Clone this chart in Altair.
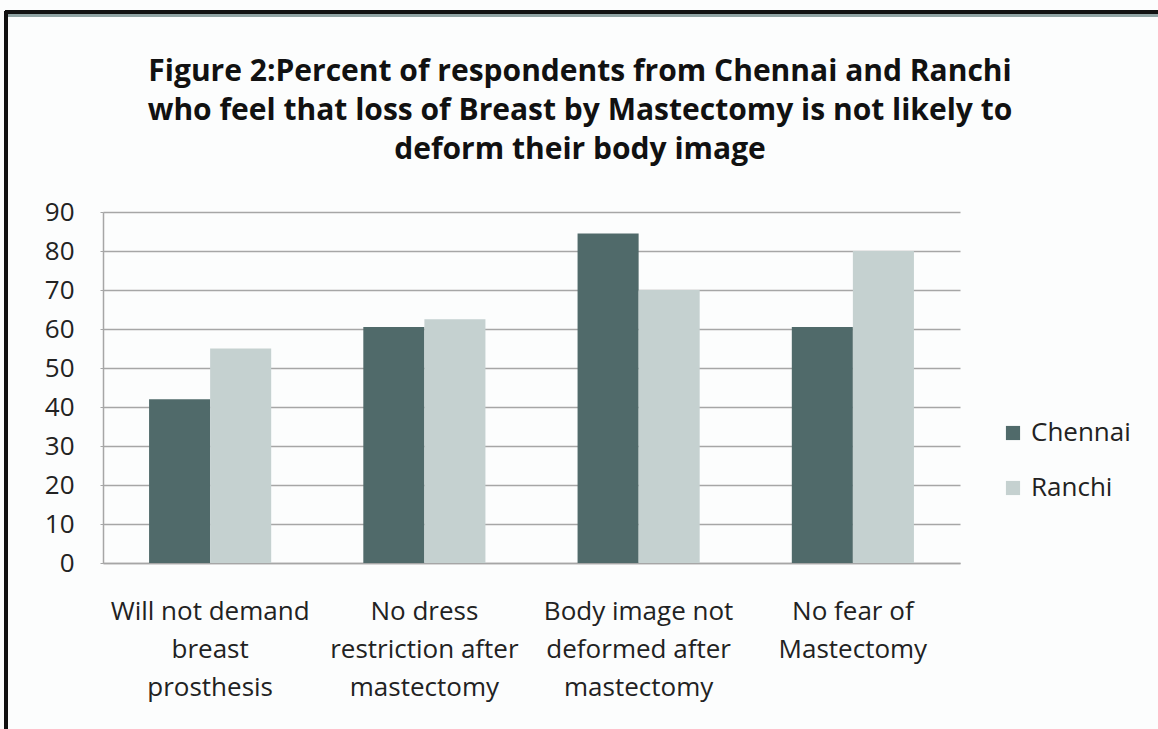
import altair as alt
import pandas as pd

# Survey categories (pipe marks a line break in the axis label)
categories = [
    "Will not demand|breast|prosthesis",
    "No dress|restriction after|mastectomy",
    "Body image not|deformed after|mastectomy",
    "No fear of|Mastectomy",
]
cities = ["Chennai", "Ranchi"]
chennai = [42, 60.5, 84.5, 60.5]
ranchi = [55, 62.5, 70, 80]
title_lines = [
    "Figure 2:Percent of respondents from Chennai and Ranchi",
    "who feel that loss of Breast by Mastectomy is not likely to",
    "deform their body image",
]

rows = []
for cat, c, r in zip(categories, chennai, ranchi):
    rows.append({"category": cat, "city": "Chennai", "percent": c})
    rows.append({"category": cat, "city": "Ranchi", "percent": r})
df = pd.DataFrame(rows)

FONT = "Open Sans"
TEXT = "#222222"
GRID = "#a6a6a6"

bars = alt.Chart(df).mark_bar().encode(
    x=alt.X(
        "category:N",
        sort=categories,
        title=None,
        scale=alt.Scale(paddingInner=0.43, paddingOuter=0.215),
        axis=alt.Axis(
            labelAngle=0,
            labelExpr="split(datum.label, '|')",
            labelFontSize=26,
            labelLineHeight=38,
            labelPadding=35,
            labelLimit=0,
            labelColor=TEXT,
            labelFont=FONT,
            ticks=False,
            domainColor=GRID,
            domainWidth=1.5,
            grid=False,
        ),
    ),
    xOffset=alt.XOffset("city:N", sort=cities),
    y=alt.Y(
        "percent:Q",
        title=None,
        scale=alt.Scale(domain=[0, 90], nice=False),
        axis=alt.Axis(
            values=list(range(0, 100, 10)),
            labelFontSize=26,
            labelColor=TEXT,
            labelFont=FONT,
            labelPadding=26,
            tickSize=3,
            tickColor=GRID,
            domainColor=GRID,
            domainWidth=1.5,
            gridColor=GRID,
            gridWidth=1.5,
        ),
    ),
    color=alt.Color(
        "city:N",
        sort=cities,
        title=None,
        scale=alt.Scale(domain=cities, range=["#506a6a", "#c5d1d0"]),
        legend=alt.Legend(
            orient="none",
            legendX=897,
            legendY=208,
            symbolType="square",
            symbolSize=200,
            symbolStrokeWidth=0,
            labelFontSize=26,
            labelFont=FONT,
            labelColor=TEXT,
            labelOffset=5,
            rowPadding=29,
        ),
    ),
)

# Three-line heading above the plot
heading = alt.Chart(pd.DataFrame({"n": [0]})).mark_text(
    font=FONT,
    fontSize=30,
    fontWeight="bold",
    color="#111111",
    align="center",
    baseline="alphabetic",
    lineHeight=39,
).encode(
    x=alt.value(477),
    y=alt.value(-131),
    text=alt.value(title_lines),
)

# Frame lines along the top and left edges of the figure
border_top = alt.Chart(df).mark_rule(color="#111111", strokeWidth=3).encode(
    x=alt.value(-98), x2=alt.value(1055), y=alt.value(-200)
)
border_top_shade = alt.Chart(df).mark_rule(color="#8fa3a3", strokeWidth=3).encode(
    x=alt.value(-96), x2=alt.value(1055), y=alt.value(-197)
)
border_left = alt.Chart(df).mark_rule(color="#111111", strokeWidth=3).encode(
    x=alt.value(-97), y=alt.value(-201), y2=alt.value(517)
)

chart = alt.layer(bars, heading, border_top_shade, border_top, border_left).properties(
    width=857,
    height=351,
    autosize=alt.AutoSizeParams(type="none"),
    padding={"left": 103, "top": 212, "right": 198, "bottom": 166},
    background="#fcfdfd",
).configure_view(stroke=None)

chart.save("out.html", embed_options={"renderer": "svg", "actions": False})
